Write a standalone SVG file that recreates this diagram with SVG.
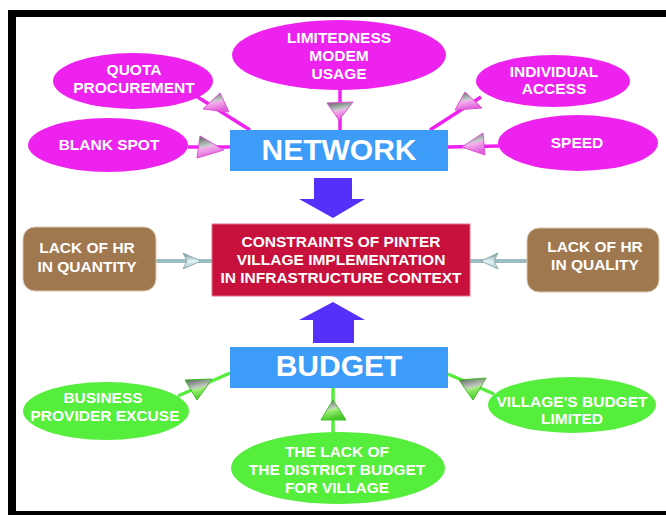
<svg xmlns="http://www.w3.org/2000/svg" width="666" height="515" viewBox="0 0 666 515">
<defs>
<linearGradient id="pcone" x1="0" y1="0" x2="0.3" y2="1">
<stop offset="0" stop-color="#4f5a56"/>
<stop offset="0.5" stop-color="#c4ccc8"/>
<stop offset="0.58" stop-color="#f4b0ee"/>
<stop offset="1" stop-color="#e060d8"/>
</linearGradient>
<linearGradient id="gcone" x1="0" y1="0" x2="0.3" y2="1">
<stop offset="0" stop-color="#4f5a56"/>
<stop offset="0.5" stop-color="#c4ccc0"/>
<stop offset="0.58" stop-color="#a0f078"/>
<stop offset="1" stop-color="#48c828"/>
</linearGradient>
<linearGradient id="ccone" x1="0" y1="0" x2="0" y2="1">
<stop offset="0" stop-color="#6f8a8c"/>
<stop offset="0.5" stop-color="#e6f4f4"/>
<stop offset="1" stop-color="#a8c8cc"/>
</linearGradient>
</defs>
<style>
text{font-family:"Liberation Sans",Arial,sans-serif;font-weight:bold;fill:#ffffff;text-anchor:middle}
.s{font-size:15.5px}
.big{font-size:30px}
.mag{fill:#ee22ee}
.grn{fill:#55ee3c}
.blue{fill:#3d9cf7}
.brown{fill:#a07850;stroke:#d8c8b0;stroke-width:1}
.red{fill:#c8103d;stroke:#e2708a;stroke-width:1}
.ml{stroke:#ee22ee;stroke-width:3.5;fill:none}
.gl{stroke:#55ee3c;stroke-width:3.5;fill:none}
.cl{stroke:#9cbcc0;stroke-width:4;fill:none}
.pa{fill:url(#pcone);stroke:#e050d8;stroke-width:1}
.ga{fill:url(#gcone);stroke:#40c028;stroke-width:1}
.ca{fill:url(#ccone);stroke:#8fb0b4;stroke-width:1}
.barrow{fill:#5630fa}
</style>
<rect width="666" height="515" fill="#ffffff"/>
<g id="frame" fill="#000000">
<rect x="8" y="10" width="658" height="7"/>
<rect x="8" y="10" width="8" height="505"/>
<rect x="8" y="511" width="658" height="4"/>
</g>
<g id="connectors">
<line class="ml" x1="188" y1="147" x2="230" y2="147"/>
<line class="ml" x1="196" y1="96" x2="250" y2="130"/>
<line class="ml" x1="340" y1="89" x2="340" y2="130"/>
<line class="ml" x1="481" y1="97" x2="430" y2="130"/>
<line class="ml" x1="448" y1="147" x2="499" y2="146"/>
<line class="cl" x1="156" y1="261" x2="212" y2="261"/>
<line class="cl" x1="470" y1="261" x2="527" y2="261"/>
<line class="gl" x1="230" y1="373" x2="178" y2="396"/>
<line class="gl" x1="333" y1="388" x2="333" y2="433"/>
<line class="gl" x1="448" y1="374" x2="494" y2="394"/>
<polygon class="pa" points="200,136 224,150 197,158"/>
<polygon class="pa" points="220,93 229,112 203,109"/>
<polygon class="pa" points="327,103 353,102 339,120"/>
<polygon class="pa" points="465,92 482,108 455,110"/>
<polygon class="pa" points="483,133 485,155 462,147"/>
<polygon class="ca" points="183,253 201,261 183,269 187,261"/>
<polygon class="ca" points="498,253 481,261 498,269 494,261"/>
<polygon class="ga" points="185,380 212,379 197,400"/>
<polygon class="ga" points="333,400 346,420 321,420"/>
<polygon class="ga" points="459,380 486,378 473,400"/>
<polygon id="arrow-down" class="barrow" points="314,178 352,178 352,199 365,199 333,218 299,199 314,199"/>
<polygon id="arrow-up" class="barrow" points="333,302 365,320 354,320 354,343 313,343 313,320 299,320"/>
</g>
<g id="network">
<rect class="blue" x="230" y="130" width="218" height="41"/>
<text class="big" x="339" y="160">NETWORK</text>
</g>
<g id="limitedness">
<ellipse class="mag" cx="339" cy="55" rx="107" ry="35"/>
<text class="s" x="339" y="43">LIMITEDNESS</text>
<text class="s" x="339" y="61">MODEM</text>
<text class="s" x="339" y="79">USAGE</text>
</g>
<g id="quota">
<ellipse class="mag" cx="133" cy="81" rx="80" ry="28"/>
<text class="s" x="134" y="75">QUOTA</text>
<text class="s" x="134" y="93">PROCUREMENT</text>
</g>
<g id="blankspot">
<ellipse class="mag" cx="108" cy="145" rx="80" ry="27"/>
<text class="s" x="109" y="150">BLANK SPOT</text>
</g>
<g id="individual">
<ellipse class="mag" cx="553" cy="81" rx="77" ry="26"/>
<text class="s" x="554" y="77">INDIVIDUAL</text>
<text class="s" x="554" y="94">ACCESS</text>
</g>
<g id="speed">
<ellipse class="mag" cx="578" cy="143" rx="80" ry="28"/>
<text class="s" x="577" y="148">SPEED</text>
</g>
<g id="constraints">
<rect class="red" x="212" y="224" width="258" height="72"/>
<text class="s" x="341" y="247">CONSTRAINTS OF PINTER</text>
<text class="s" x="341" y="265">VILLAGE IMPLEMENTATION</text>
<text class="s" x="341" y="283">IN INFRASTRUCTURE CONTEXT</text>
</g>
<g id="hr-quantity">
<rect class="brown" x="23" y="227" width="133" height="64" rx="12"/>
<text class="s" x="87" y="253">LACK OF HR</text>
<text class="s" x="87" y="272">IN QUANTITY</text>
</g>
<g id="hr-quality">
<rect class="brown" x="527" y="228" width="132" height="64" rx="12"/>
<text class="s" x="595" y="252">LACK OF HR</text>
<text class="s" x="595" y="270">IN QUALITY</text>
</g>
<g id="budget">
<rect class="blue" x="230" y="347" width="218" height="41"/>
<text class="big" x="339" y="376">BUDGET</text>
</g>
<g id="business">
<ellipse class="grn" cx="106" cy="411" rx="83" ry="29"/>
<text class="s" x="103" y="403">BUSINESS</text>
<text class="s" x="105" y="421">PROVIDER EXCUSE</text>
</g>
<g id="district">
<ellipse class="grn" cx="338" cy="468" rx="107" ry="36"/>
<text class="s" x="337" y="457">THE LACK OF</text>
<text class="s" x="337" y="475">THE DISTRICT BUDGET</text>
<text class="s" x="337" y="493">FOR VILLAGE</text>
</g>
<g id="village">
<ellipse class="grn" cx="572" cy="405" rx="84" ry="28"/>
<text class="s" x="572" y="407">VILLAGE'S BUDGET</text>
<text class="s" x="572" y="424">LIMITED</text>
</g>
</svg>
